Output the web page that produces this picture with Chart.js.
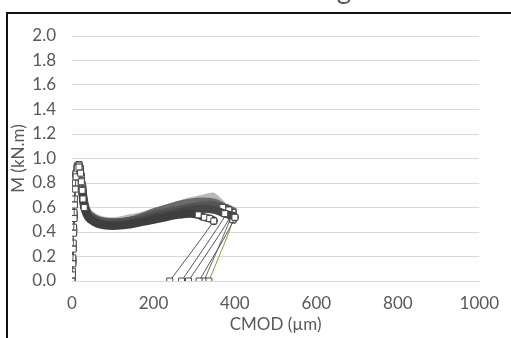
<!DOCTYPE html>
<html>
<head>
<meta charset="utf-8">
<script src="https://cdn.jsdelivr.net/npm/chart.js@4/dist/chart.umd.min.js"></script>
<style>
  html, body { margin: 0; padding: 0; background: #fff; }
  #wrap { position: relative; width: 511px; height: 338px; overflow: hidden; background: #fff; }
  #c { position: absolute; left: 0; top: -27px; }
  #frame { position: absolute; left: 6px; top: 12px; width: 600px; height: 400px;
           border-left: 2px solid #111; border-top: 2px solid #111; pointer-events: none; }
</style>
</head>
<body>
<div id="wrap">
  <canvas id="c" width="511" height="365"></canvas>
  <div id="frame"></div>
</div>
<script>
// Moment vs crack mouth opening, six specimens
const titleText = 'mechanical damage';
const xTitle = 'CMOD (µm)';
const yTitle = 'M (kN.m)';
const xTicks = [0, 200, 400, 600, 800, 1000];
const yTicks = [0, 0.2, 0.4, 0.6, 0.8, 1.0, 1.2, 1.4, 1.6, 1.8, 2.0];

const cmod1 = [0,1,2,3,4,5,6,8,10,13,17,21,23,25,27,30,35,42,55,70,90,110,140,170,200,230,260,290,310,325,338,348,240];
const m1    = [0,0.05,0.14,0.26,0.39,0.51,0.62,0.75,0.85,0.92,0.93,0.88,0.81,0.74,0.67,0.60,0.55,0.51,0.48,0.46,0.45,0.45,0.46,0.48,0.50,0.52,0.54,0.55,0.54,0.52,0.51,0.49,0];

const cmod2 = [0,1,2,3,4,5,6,8,10,13,17,21,23,25,27,30,35,42,55,70,90,110,140,170,200,230,260,290,320,350,370,385,269];
const m2    = [0,0.07,0.17,0.29,0.42,0.54,0.65,0.78,0.87,0.93,0.95,0.91,0.85,0.78,0.71,0.64,0.58,0.54,0.51,0.49,0.48,0.48,0.49,0.51,0.54,0.56,0.58,0.60,0.61,0.61,0.60,0.58,0];

const cmod3 = [0,1,2,3,4,5,6,8,10,13,17,21,23,25,27,30,35,42,55,70,90,110,140,170,200,230,260,290,320,350,375,395,286];
const m3    = [0,0.06,0.16,0.28,0.41,0.53,0.64,0.77,0.86,0.92,0.94,0.90,0.84,0.77,0.70,0.63,0.57,0.53,0.50,0.48,0.47,0.47,0.49,0.52,0.56,0.59,0.62,0.64,0.65,0.64,0.60,0.56,0];

const cmod4 = [0,1,2,3,4,5,6,8,10,13,17,21,23,25,27,30,35,42,55,70,90,110,140,170,200,230,260,290,320,350,375,400,312];
const m4    = [0,0.08,0.19,0.31,0.44,0.56,0.67,0.80,0.88,0.93,0.94,0.89,0.82,0.75,0.68,0.61,0.56,0.52,0.49,0.47,0.46,0.46,0.47,0.49,0.52,0.54,0.56,0.58,0.59,0.58,0.55,0.52,0];

const cmod5 = [0,1,2,3,4,5,6,8,10,13,17,21,23,25,27,30,35,42,55,70,90,110,140,170,200,230,260,290,320,350,375,395,336];
const m5    = [0,0.06,0.15,0.27,0.40,0.52,0.63,0.76,0.86,0.92,0.94,0.90,0.83,0.76,0.69,0.62,0.57,0.53,0.50,0.48,0.47,0.47,0.48,0.50,0.53,0.56,0.58,0.60,0.62,0.62,0.57,0.50,0];

const cmod6 = [0,1,2,3,4,5,6,8,10,13,17,21,23,25,27,30,35,42,55,70,90,110,140,170,200,230,260,290,320,345,360,375,395,324];
const m6    = [0,0.07,0.18,0.30,0.43,0.55,0.66,0.79,0.88,0.94,0.95,0.92,0.86,0.79,0.72,0.65,0.59,0.55,0.52,0.50,0.49,0.49,0.51,0.53,0.56,0.59,0.62,0.65,0.67,0.69,0.65,0.60,0.57,0];

const specimens = [
  { x: cmod1, y: m1, band: '#3e3e3e', line: '#555555', endMarks: 5 },
  { x: cmod4, y: m4, band: '#474747', line: '#555555', endMarks: 3 },
  { x: cmod2, y: m2, band: '#555555', line: '#555555', endMarks: 3 },
  { x: cmod5, y: m5, band: '#5c5c5c', line: '#8a9a3c', endMarks: 3 },
  { x: cmod3, y: m3, band: '#6a6a6a', line: '#555555', endMarks: 3 },
  { x: cmod6, y: m6, band: '#b8b8b8', line: '#666666', endMarks: 3 }
];

const datasets = specimens.map((s, k) => {
  const n = s.x.length;
  const pts = s.x.map((v, i) => ({ x: v, y: s.y[i] }));
  const marked = i => s.x[i] <= 30 || i >= n - s.endMarks;
  const inBand = c => c.p0DataIndex >= 13 && c.p1DataIndex < n - 1;
  return {
    label: 'S' + (k + 1),
    data: pts,
    order: k,
    tension: 0.2,
    borderColor: '#555555',
    borderWidth: 1,
    borderCapStyle: 'round',
    borderJoinStyle: 'round',
    pointStyle: 'rect',
    pointRadius: pts.map((p, i) => marked(i) ? 4.2 : 0),
    pointBackgroundColor: '#ffffff',
    pointBorderColor: '#4a4a4a',
    pointBorderWidth: 1,
    segment: {
      borderWidth: c => inBand(c) ? 8 : 1,
      borderColor: c => inBand(c) ? s.band : s.line
    }
  };
});

const tickFont = { family: 'Lato', size: 17 };
const tickColor = '#595959';

new Chart(document.getElementById('c'), {
  type: 'line',
  data: { datasets },
  options: {
    responsive: false,
    animation: false,
    layout: { padding: { left: 0, right: 19, top: 0, bottom: 0 } },
    plugins: {
      legend: { display: false },
      tooltip: { enabled: false },
      title: {
        display: true,
        text: titleText,
        color: '#595959',
        font: { family: 'Lato', size: 28, weight: 'normal' },
        padding: { top: 0, bottom: 29.4 }
      }
    },
    scales: {
      x: {
        type: 'linear',
        min: 0, max: 1000,
        afterBuildTicks: s => { s.ticks = xTicks.map(v => ({ value: v })); },
        afterFit: s => { s.height = 57; },
        grid: { display: false, drawTicks: false },
        border: { display: true, color: '#d9d9d9', width: 1 },
        ticks: { color: tickColor, font: tickFont, padding: 12, maxRotation: 0, callback: v => String(v) },
        title: { display: true, text: xTitle, color: tickColor, font: tickFont, padding: { top: 0, bottom: 3.5 } }
      },
      y: {
        type: 'linear',
        min: 0, max: 2,
        afterBuildTicks: s => { s.ticks = yTicks.map(v => ({ value: v })); },
        afterFit: s => { s.width = 72; },
        grid: { color: '#d9d9d9', lineWidth: 1, drawTicks: false },
        border: { display: false },
        ticks: { color: tickColor, font: tickFont, padding: 16, callback: v => v.toFixed(1) },
        title: { display: true, text: yTitle, color: tickColor, font: tickFont, padding: { top: 8, bottom: 0 } }
      }
    }
  }
});
</script>
</body>
</html>
